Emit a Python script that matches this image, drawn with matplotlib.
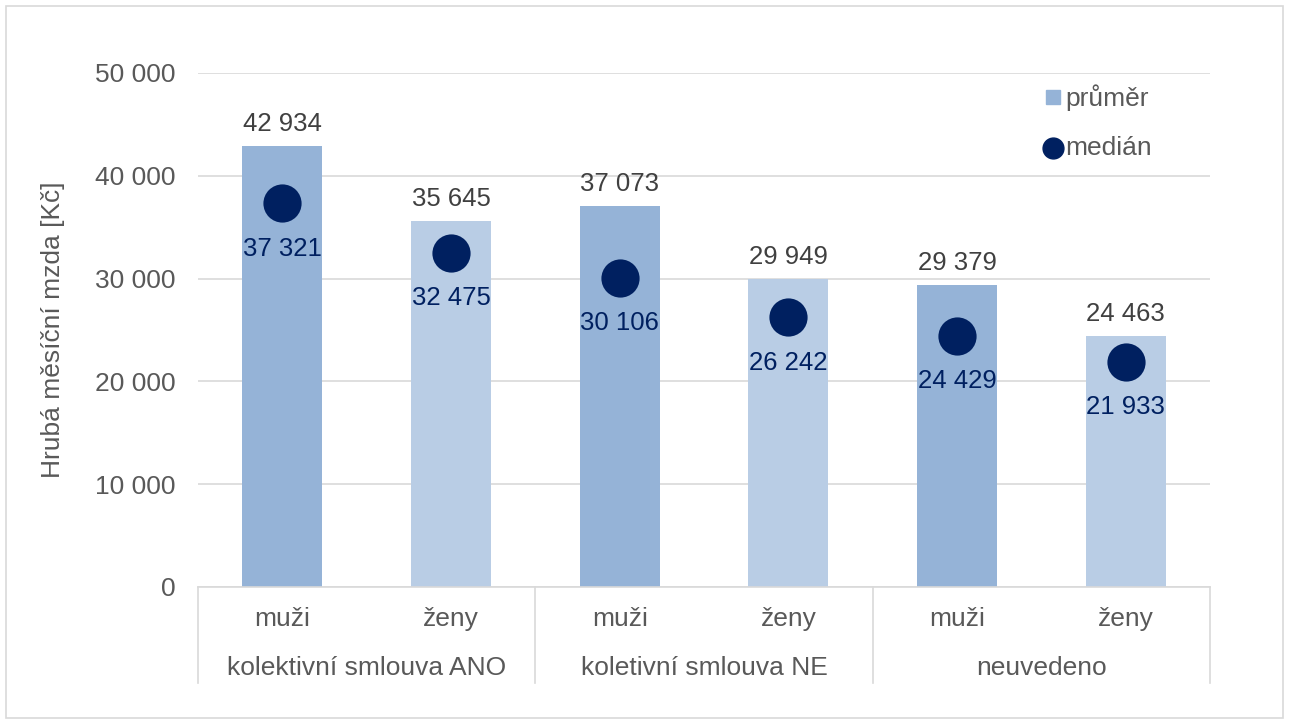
import matplotlib
matplotlib.use("Agg")
import matplotlib.pyplot as plt
from matplotlib.patches import Rectangle

# data
groups = ["kolektivní smlouva ANO", "koletivní smlouva NE", "neuvedeno"]
sexes = ["muži", "ženy"]
prumer = [42934, 35645, 37073, 29949, 29379, 24463]
median = [37321, 32475, 30106, 26242, 24429, 21933]
yticks = [0, 10000, 20000, 30000, 40000, 50000]

BAR_COLORS = ["#95b3d7", "#b9cde5"]
NAVY = "#002060"
GREY_TXT = "#595959"
GRID = "#d9d9d9"

plt.rcParams["font.family"] = ["Liberation Sans", "DejaVu Sans"]


def fmt(v):
    return f"{v:,}".replace(",", " ")


fig = plt.figure(figsize=(12.89, 7.24), dpi=100)
ax = fig.add_axes([198 / 1289, 1 - 587 / 724, 1012 / 1289, 514 / 724])

n = len(prumer)
x = list(range(n))
colors = [BAR_COLORS[i % 2] for i in x]

ax.bar(x, prumer, width=0.475, color=colors, zorder=2)
ax.scatter(x, median, s=27.5 ** 2, color=NAVY, zorder=3, linewidths=0)

for xi, v in zip(x, prumer):
    ax.annotate(fmt(v), (xi, v), xytext=(0, 7), textcoords="offset points",
                ha="center", va="bottom", fontsize=18.5, color="#404040")
for xi, v in zip(x, median):
    ax.annotate(fmt(v), (xi, v), xytext=(0, -24), textcoords="offset points",
                ha="center", va="top", fontsize=18.5, color=NAVY, zorder=4)

ax.set_xlim(-0.5, n - 0.5)
ax.set_ylim(0, 50000)
ax.set_yticks(yticks)
ax.set_yticklabels([fmt(t) for t in yticks], fontsize=19, color=GREY_TXT)
ax.tick_params(axis="y", length=0, pad=16)
ax.set_xticks([])
ax.grid(axis="y", color=GRID, linewidth=1.2, zorder=0)
for s in ["top", "right", "left"]:
    ax.spines[s].set_visible(False)
ax.spines["bottom"].set_color(GRID)
ax.spines["bottom"].set_linewidth(1.2)

# category axis with two levels
trans = ax.get_xaxis_transform()
for xi in x:
    ax.text(xi, -0.062, sexes[xi % 2], transform=trans, ha="center", va="center",
            fontsize=19, color=GREY_TXT)
for gi, g in enumerate(groups):
    ax.text(2 * gi + 0.5, -0.158, g, transform=trans, ha="center", va="center",
            fontsize=19, color=GREY_TXT)
for b in [-0.5, 1.5, 3.5, 5.5]:
    ax.plot([b, b], [0, -0.187], transform=trans, color=GRID, lw=1.2, clip_on=False)

ax.set_ylabel("Hrubá měsíční mzda [Kč]", fontsize=19, color=GREY_TXT, labelpad=22)

# legend
ax.plot([0.845], [0.953], marker="s", ms=10, color=BAR_COLORS[0], transform=ax.transAxes,
        clip_on=False, ls="none")
ax.text(0.857, 0.953, "průměr", transform=ax.transAxes, va="center", ha="left",
        fontsize=19, color=GREY_TXT)
ax.plot([0.845], [0.854], marker="o", ms=15, color=NAVY, transform=ax.transAxes,
        clip_on=False, ls="none")
ax.text(0.857, 0.854, "medián", transform=ax.transAxes, va="center", ha="left",
        fontsize=19, color=GREY_TXT)

fig.patches.append(Rectangle((6 / 1289, 6 / 724), 1 - 12 / 1289, 1 - 12 / 724,
                             transform=fig.transFigure, fill=False,
                             edgecolor=GRID, linewidth=1.2))

fig.savefig("out.png", dpi=100, facecolor="white")
